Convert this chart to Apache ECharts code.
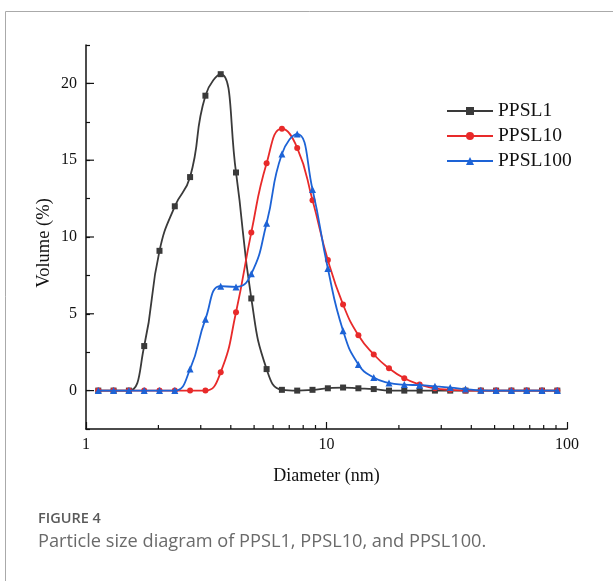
<!DOCTYPE html>
<html>
<head>
<meta charset="utf-8">
<script src="https://cdn.jsdelivr.net/npm/echarts@6/dist/echarts.min.js"></script>
<style>
html,body{margin:0;padding:0;background:#fff;}
#c{width:613px;height:581px;}
</style>
</head>
<body>
<div id="c"></div>
<script>
// Diameter bins (nm)
const diameters = [1.125,1.302,1.508,1.746,2.021,2.340,2.709,3.137,3.632,4.205,4.868,5.636,6.525,7.554,8.746,10.13,11.72,13.57,15.72,18.19,21.06,24.39,28.24,32.69,37.84,43.82,50.73,58.73,68.00,78.73,91.15];
const ppsl1 = [0,0,0,2.9,9.1,12.0,13.9,19.2,20.6,14.2,6.0,1.4,0.05,0,0.05,0.15,0.2,0.15,0.1,0,0,0,0,0,0,0,0,0,0,0,0];
const ppsl10 = [0,0,0,0,0,0,0,0,1.2,5.1,10.3,14.8,17.05,15.8,12.4,8.5,5.6,3.6,2.35,1.45,0.8,0.4,0.15,0.05,0,0,0,0,0,0,0];
const ppsl100 = [0,0,0,0,0,0,1.4,4.65,6.8,6.75,7.6,10.9,15.4,16.7,13.1,7.95,3.9,1.7,0.85,0.5,0.39,0.35,0.28,0.2,0.1,0.02,0,0,0,0,0];
const seriesNames = ['PPSL1','PPSL10','PPSL100'];
const xLabels = [1,10,100];
const xMinorTicks = [2,3,4,5,6,7,8,9,20,30,40,50,60,70,80,90];
const yMajorTicks = [0,5,10,15,20];
const yMin = -2.5, yMax = 22.5;

const serif = 'Liberation Serif';
const chart = echarts.init(document.getElementById('c'));
const pair = arr => diameters.map((d,i)=>[d,arr[i]]);

chart.setOption({
  animation:false,
  backgroundColor:'#fff',
  grid:{left:86,right:46,top:45,bottom:152},
  legend:{
    data:seriesNames, orient:'vertical', left:441, top:96,
    itemWidth:46, itemHeight:10, itemGap:5,
    textStyle:{fontFamily:serif,fontSize:19.5,color:'#111',lineHeight:20}
  },
  xAxis:{
    type:'log', logBase:10, min:1, max:100,
    name:'Diameter (nm)', nameLocation:'middle', nameGap:38, nameMoveOverlap:false,
    nameTextStyle:{fontFamily:serif,fontSize:18,color:'#111'},
    axisLine:{show:true,onZero:false,lineStyle:{color:'#111',width:1.5}},
    axisTick:{show:true,inside:true,length:7,lineStyle:{color:'#111',width:1.2}},
    axisLabel:{fontFamily:serif,fontSize:16,color:'#111',margin:8},
    splitLine:{show:false}
  },
  yAxis:{
    type:'value', min:yMin, max:yMax, interval:2.5,
    name:'Volume (%)', nameLocation:'middle', nameGap:32, nameMoveOverlap:false,
    nameTextStyle:{fontFamily:serif,fontSize:18.5,color:'#111',padding:[0,12,0,0]},
    axisLine:{show:true,lineStyle:{color:'#111',width:1.5}},
    axisTick:{show:true,inside:true,length:4,lineStyle:{color:'#111',width:1.2}},
    axisLabel:{fontFamily:serif,fontSize:16,color:'#111',margin:9,
      formatter:v=> (Math.abs(v%5)<1e-9 && v>=0 && v<=20) ? String(v) : ''},
    splitLine:{show:false}
  },
  series:[
    {name:'PPSL1',type:'line',data:pair(ppsl1),smooth:0.5,symbol:'rect',symbolSize:6,
      itemStyle:{color:'#3a3a3a'},lineStyle:{color:'#3a3a3a',width:1.8},z:3},
    {name:'PPSL10',type:'line',data:pair(ppsl10),smooth:0.5,symbol:'circle',symbolSize:6,
      itemStyle:{color:'#e82a2a'},lineStyle:{color:'#e82a2a',width:1.8},z:4},
    {name:'PPSL100',type:'line',data:pair(ppsl100),smooth:0.5,symbol:'triangle',symbolSize:7,
      itemStyle:{color:'#1d63d6'},lineStyle:{color:'#1d63d6',width:1.8},z:5},
    {type:'custom',name:'xminor',silent:true,clip:false,z:6,
      data:xMinorTicks.map(v=>[v,yMin]),
      renderItem:(params,api)=>{
        const p = api.coord([api.value(0),api.value(1)]);
        return {type:'line',shape:{x1:p[0],y1:p[1],x2:p[0],y2:p[1]-4},style:{stroke:'#111',lineWidth:1.2}};
      }},
    {type:'custom',name:'ymajor',silent:true,clip:false,z:6,
      data:yMajorTicks.map(v=>[1,v]),
      renderItem:(params,api)=>{
        const p = api.coord([api.value(0),api.value(1)]);
        return {type:'line',shape:{x1:p[0],y1:p[1],x2:p[0]+8,y2:p[1]},style:{stroke:'#111',lineWidth:1.2}};
      }}
  ],
  graphic:[
    {type:'polyline',silent:true,shape:{points:[[5.5,581],[5.5,11.5],[613,11.5]]},style:{stroke:'#aaaaaa',lineWidth:1,fill:null}},
    {type:'text',left:38,top:511,style:{text:'FIGURE 4',font:'600 14.5px "Open Sans"',fill:'#5a5a5a'}},
    {type:'text',left:38,top:533,style:{text:'Particle size diagram of PPSL1, PPSL10, and PPSL100.',font:'18.2px "Open Sans"',fill:'#6a6a6a'}}
  ]
});
</script>
</body>
</html>
